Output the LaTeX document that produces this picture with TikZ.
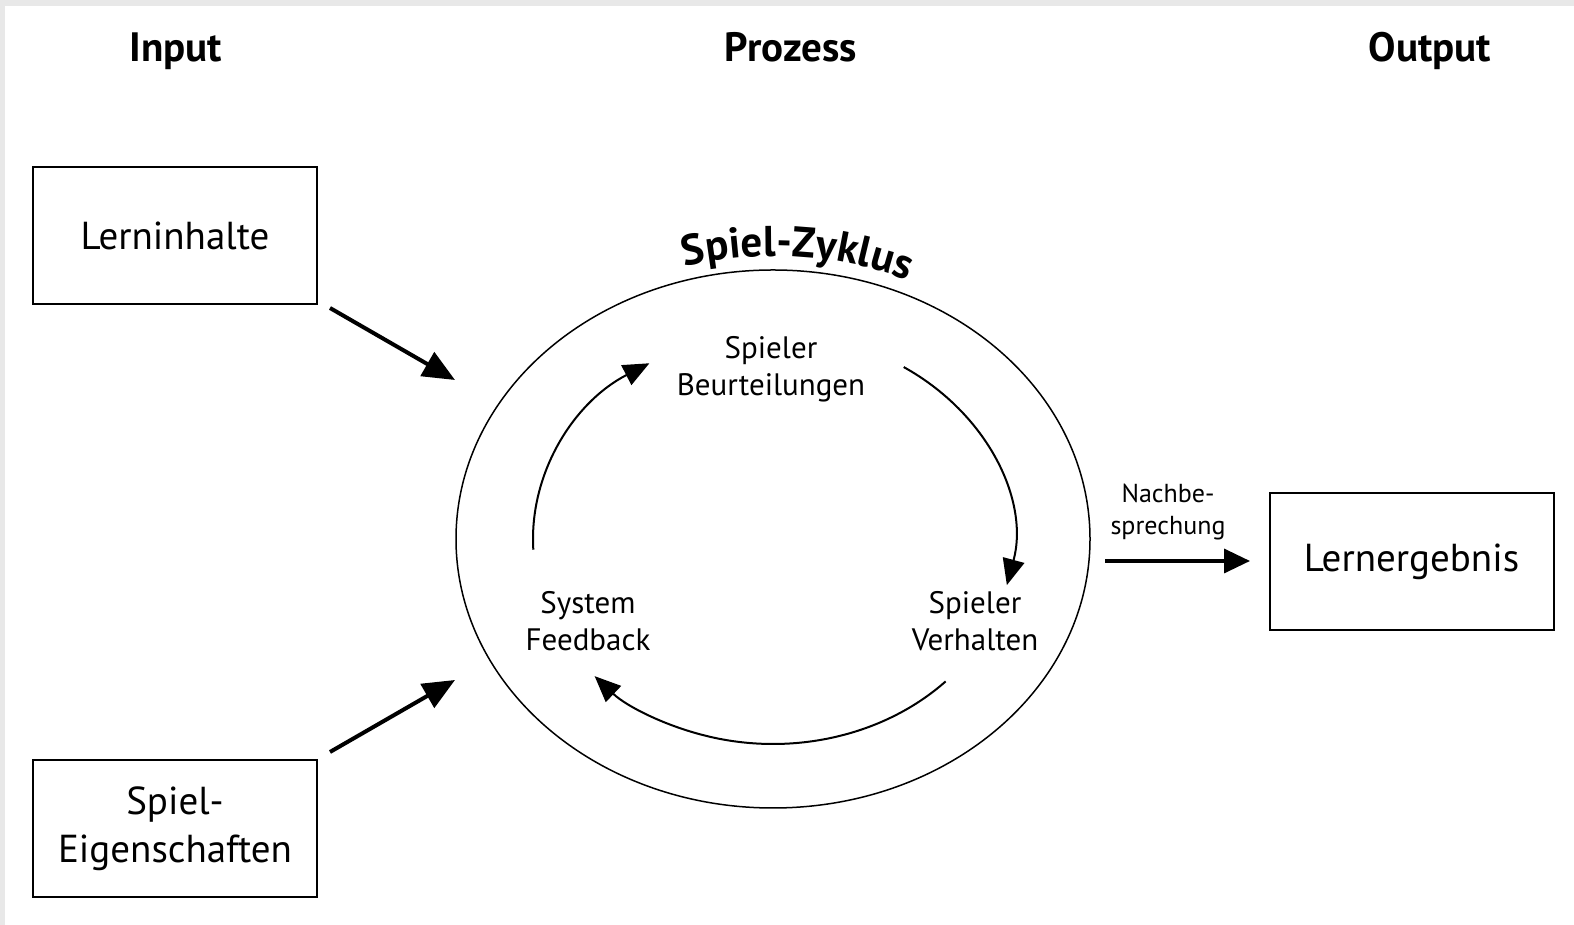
\documentclass[tikz,border=0pt]{standalone}
\usepackage{fontspec}
\setmainfont{PT Sans}
\usetikzlibrary{arrows.meta,decorations.text,shapes.geometric}
\begin{document}
\begin{tikzpicture}[x=1pt,y=1pt,
  box/.style={draw, line width=2pt, minimum width=284pt, minimum height=137pt, inner sep=0pt, align=center, font=\fontsize{39}{48}\selectfont},
  head/.style={anchor=base, font=\fontsize{41}{44}\selectfont\bfseries},
  cyctext/.style={align=center, font=\fontsize{31}{37}\selectfont},
  bigarrow/.style={line width=4pt, -{Triangle[length=32pt,width=27pt]}},
  cycarrow/.style={line width=2pt, -{Triangle[length=26pt,width=22pt]}}]
\fill[gray!18] (0,0) rectangle (1574,925);
\fill[white] (5,0) rectangle (1574,919);
% headers
\node[head] (hin) at (176,863) {Input};
\node[head] (hpro) at (791,863) {Prozess};
\node[head] (hout) at (1430,863) {Output};
% boxes
\node[box] (lern) at (175,689.5) {Lerninhalte};
\node[box] (eig) at (175,96.5) {Spiel-\\Eigenschaften};
\node[box] (erg) at (1411.5,363) {Lernergebnis};
% ellipse
\node[draw, ellipse, line width=1.5pt, minimum width=634pt, minimum height=538pt, inner sep=0pt] (zyk) at (773,386) {};
\path[decorate, decoration={text along path, text align=center,
  text={|\fontsize{43}{45}\selectfont\bfseries|Spiel-Zyklus}}]
  (773,386) ++(131:330pt and 283pt) arc[start angle=131, end angle=40, x radius=330pt, y radius=283pt];
% outer arrows
\coordinate (a1s) at (330,617);
\coordinate (a1e) at (455,545);
\coordinate (a2s) at (330,173);
\coordinate (a2e) at (455,245);
\draw[bigarrow] (a1s) -- (a1e);
\draw[bigarrow] (a2s) -- (a2e);
\coordinate (a3s) at (1105,364);
\coordinate (a3e) at (1250,364);
\draw[line width=3.5pt, -{Triangle[length=26pt,width=24pt]}] (a3s) -- (a3e);
\node[align=center, font=\fontsize{26}{32}\selectfont] (nach) at (1168,413) {Nachbe-\\sprechung};
% cycle texts
\node[cyctext] (beur) at (771,556) {Spieler\\Beurteilungen};
\node[cyctext] (feed) at (588,304) {System\\Feedback};
\node[cyctext] (verh) at (975,304) {Spieler\\Verhalten};
% cycle arcs
\coordinate (c) at (773,386);
\draw[cycarrow] (c) ++(183:240pt and 205pt) arc[start angle=183, end angle=121, x radius=240pt, y radius=205pt];
\draw[cycarrow] (c) ++(57:240pt and 205pt) arc[start angle=57, end angle=-13, x radius=240pt, y radius=205pt];
\draw[cycarrow] (c) ++(-44:240pt and 205pt) arc[start angle=-44, end angle=-138, x radius=240pt, y radius=205pt];
\end{tikzpicture}
\end{document}
